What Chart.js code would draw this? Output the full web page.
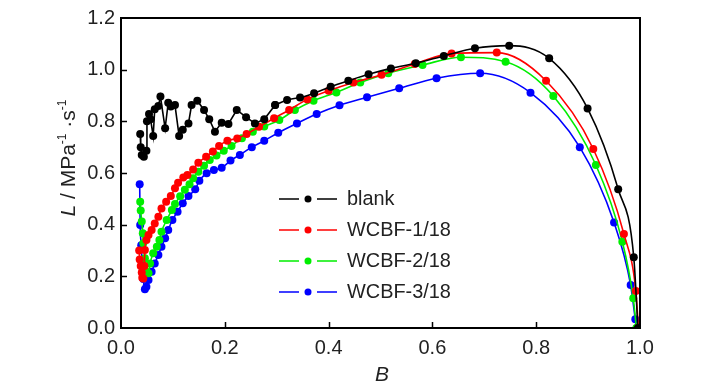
<!DOCTYPE html>
<html>
<head>
<meta charset="utf-8">
<script src="https://cdn.jsdelivr.net/npm/chart.js@4"></script>
<style>
  html, body { margin: 0; padding: 0; background: #fff; }
  #wrap { width: 726px; height: 390px; }
</style>
</head>
<body>
<div id="wrap"><canvas id="lchart" width="726" height="390"></canvas></div>
<script>
// blank: noisy part (straight segments) and smooth part
var blankRoughX = [0.037, 0.038, 0.040, 0.044, 0.049, 0.050, 0.054, 0.057, 0.062, 0.065, 0.072, 0.076, 0.085, 0.091, 0.096, 0.104, 0.112, 0.119, 0.130, 0.136, 0.147, 0.160, 0.170, 0.181, 0.194, 0.207, 0.223, 0.241, 0.258, 0.276, 0.297];
var blankRoughY = [0.751, 0.700, 0.670, 0.663, 0.686, 0.800, 0.828, 0.808, 0.743, 0.847, 0.859, 0.896, 0.773, 0.872, 0.857, 0.863, 0.743, 0.767, 0.792, 0.863, 0.880, 0.844, 0.808, 0.760, 0.795, 0.790, 0.844, 0.816, 0.792, 0.808, 0.863];
var blankSmoothX = [0.297, 0.320, 0.345, 0.372, 0.404, 0.438, 0.477, 0.520, 0.568, 0.622, 0.682, 0.748, 0.825, 0.899, 0.958, 0.988, 0.996];
var blankSmoothY = [0.863, 0.883, 0.892, 0.909, 0.934, 0.957, 0.982, 1.005, 1.025, 1.053, 1.083, 1.093, 1.044, 0.850, 0.537, 0.274, 0.0];

var wcbf1X = [0.035, 0.036, 0.038, 0.040, 0.041, 0.043, 0.045, 0.046, 0.049, 0.053, 0.059, 0.065, 0.072, 0.078, 0.087, 0.096, 0.104, 0.110, 0.120, 0.128, 0.139, 0.149, 0.164, 0.177, 0.189, 0.205, 0.224, 0.242, 0.266, 0.295, 0.324, 0.359, 0.400, 0.448, 0.502, 0.566, 0.637, 0.724, 0.819, 0.910, 0.969, 0.992, 0.997];
var wcbf1Y = [0.300, 0.265, 0.240, 0.215, 0.195, 0.192, 0.240, 0.302, 0.341, 0.360, 0.379, 0.405, 0.431, 0.463, 0.489, 0.511, 0.541, 0.562, 0.583, 0.592, 0.614, 0.640, 0.663, 0.683, 0.705, 0.725, 0.734, 0.751, 0.779, 0.812, 0.844, 0.885, 0.918, 0.950, 0.980, 1.022, 1.063, 1.066, 0.957, 0.693, 0.364, 0.143, 0.0];

var wcbf2X = [0.037, 0.038, 0.040, 0.042, 0.043, 0.046, 0.049, 0.053, 0.056, 0.062, 0.069, 0.074, 0.078, 0.088, 0.098, 0.104, 0.114, 0.123, 0.132, 0.139, 0.149, 0.160, 0.171, 0.184, 0.198, 0.213, 0.233, 0.254, 0.276, 0.305, 0.335, 0.371, 0.415, 0.461, 0.515, 0.581, 0.655, 0.741, 0.833, 0.915, 0.966, 0.987, 0.993];
var wcbf2Y = [0.489, 0.455, 0.412, 0.367, 0.328, 0.270, 0.218, 0.212, 0.250, 0.289, 0.315, 0.341, 0.373, 0.418, 0.457, 0.480, 0.510, 0.535, 0.556, 0.580, 0.605, 0.628, 0.650, 0.668, 0.686, 0.705, 0.735, 0.760, 0.780, 0.805, 0.844, 0.880, 0.912, 0.950, 0.986, 1.018, 1.048, 1.031, 0.898, 0.631, 0.334, 0.115, 0.0];

var wcbf3X = [0.036, 0.037, 0.039, 0.041, 0.043, 0.046, 0.049, 0.053, 0.059, 0.065, 0.072, 0.078, 0.085, 0.091, 0.099, 0.109, 0.119, 0.130, 0.143, 0.151, 0.165, 0.179, 0.194, 0.211, 0.229, 0.252, 0.276, 0.303, 0.339, 0.377, 0.421, 0.474, 0.536, 0.608, 0.692, 0.789, 0.884, 0.950, 0.982, 0.991, 0.994];
var wcbf3Y = [0.556, 0.399, 0.320, 0.250, 0.190, 0.150, 0.160, 0.186, 0.218, 0.250, 0.283, 0.315, 0.347, 0.379, 0.418, 0.450, 0.483, 0.511, 0.537, 0.570, 0.599, 0.612, 0.620, 0.648, 0.670, 0.700, 0.725, 0.756, 0.792, 0.828, 0.862, 0.893, 0.928, 0.967, 0.986, 0.911, 0.700, 0.408, 0.166, 0.034, 0.0];

var seriesNames = ['blank', 'WCBF-1/18', 'WCBF-2/18', 'WCBF-3/18'];
var seriesColors = ['#000000', '#ff0000', '#00ee00', '#0000ff'];
var xTicks = [0, 0.2, 0.4, 0.6, 0.8, 1.0];
var yTicks = [0, 0.2, 0.4, 0.6, 0.8, 1.0, 1.2];

var FONT = '"Liberation Sans", Arial, sans-serif';
var NARROW = '"Liberation Sans Narrow", "Arial Narrow", "Liberation Sans", sans-serif';

function pts(xs, ys) {
    return xs.map(function (x, i) { return { x: x, y: ys[i] }; });
}

function makeSet(label, color, data, smooth, inLegend) {
    return {
        label: label,
        data: data,
        showLine: true,
        borderColor: color,
        backgroundColor: color,
        borderWidth: 1.6,
        pointRadius: 4,
        pointBorderWidth: 0,
        pointBackgroundColor: color,
        tension: 0,
        cubicInterpolationMode: smooth ? 'monotone' : 'default',
        inLegend: inLegend
    };
}

var frameAndLabels = {
    id: 'frameAndLabels',
    afterDatasetsDraw: function (chart) {
        var ctx = chart.ctx;
        var a = chart.chartArea;
        var xs = chart.scales.x, ys = chart.scales.y;
        ctx.save();
        ctx.strokeStyle = '#000';
        ctx.lineWidth = 2;
        ctx.strokeRect(a.left, a.top, a.right - a.left, a.bottom - a.top);
        ctx.lineWidth = 1.5;
        ctx.beginPath();
        yTicks.slice(1, -1).forEach(function (v) {
            var py = Math.round(ys.getPixelForValue(v)) + 0.5;
            ctx.moveTo(a.left, py);
            ctx.lineTo(a.left + 6, py);
        });
        xTicks.slice(1, -1).forEach(function (v) {
            var px = Math.round(xs.getPixelForValue(v)) + 0.5;
            ctx.moveTo(px, a.bottom);
            ctx.lineTo(px, a.bottom - 6);
        });
        ctx.stroke();
        ctx.restore();
    },
    afterDraw: function (chart) {
        var ctx = chart.ctx;
        ctx.save();
        ctx.fillStyle = '#222';

        // x title
        ctx.font = 'italic 21px ' + FONT;
        ctx.textAlign = 'center';
        ctx.textBaseline = 'alphabetic';
        ctx.fillText('B', 382, 381);

        // y title with superscripts
        var parts = [
            { t: 'L', f: 'italic 21px ' + FONT, dy: 0 },
            { t: ' / MPa', f: '21px ' + FONT, dy: 0 },
            { t: '-1', f: '12px ' + FONT, dy: -9 },
            { t: ' \u00b7s', f: '21px ' + FONT, dy: 0 },
            { t: '-1', f: '12px ' + FONT, dy: -9 }
        ];
        var total = 0;
        parts.forEach(function (p) { ctx.font = p.f; p.w = ctx.measureText(p.t).width; total += p.w; });
        ctx.translate(75, 158);
        ctx.rotate(-Math.PI / 2);
        ctx.textAlign = 'left';
        var cx = -total / 2;
        parts.forEach(function (p) {
            ctx.font = p.f;
            ctx.fillText(p.t, cx, p.dy);
            cx += p.w;
        });
        ctx.restore();

        // legend (narrow face, sized so the longest label is ~104px wide)
        ctx.save();
        ctx.font = '23px ' + NARROW;
        var size = Math.min(23, 23 * 104 / ctx.measureText('WCBF-1/18').width);
        var row = 0;
        chart.data.datasets.forEach(function (ds) {
            if (!ds.inLegend) return;
            var y = 199 + row * 31;
            ctx.strokeStyle = ds.borderColor;
            ctx.fillStyle = ds.borderColor;
            ctx.lineWidth = 1.6;
            ctx.beginPath();
            ctx.moveTo(279, y); ctx.lineTo(299, y);
            ctx.moveTo(317, y); ctx.lineTo(337, y);
            ctx.stroke();
            ctx.beginPath();
            ctx.arc(308, y, 3.5, 0, Math.PI * 2);
            ctx.fill();
            ctx.fillStyle = '#222';
            ctx.font = size.toFixed(1) + 'px ' + NARROW;
            ctx.textAlign = 'left';
            ctx.textBaseline = 'middle';
            ctx.fillText(ds.label, 347, y + 1);
            row++;
        });
        ctx.restore();
    }
};

var ctx = document.getElementById('lchart').getContext('2d');
var lChart = new Chart(ctx, {
    type: 'scatter',
    data: {
        datasets: [
            makeSet(seriesNames[0], seriesColors[0], pts(blankRoughX, blankRoughY), false, true),
            makeSet(seriesNames[0], seriesColors[0], pts(blankSmoothX, blankSmoothY), true, false),
            makeSet(seriesNames[1], seriesColors[1], pts(wcbf1X, wcbf1Y), true, true),
            makeSet(seriesNames[2], seriesColors[2], pts(wcbf2X, wcbf2Y), true, true),
            makeSet(seriesNames[3], seriesColors[3], pts(wcbf3X, wcbf3Y), true, true)
        ]
    },
    options: {
        responsive: false,
        animation: false,
        layout: { padding: { left: 0, right: 86, top: 18, bottom: 0 } },
        plugins: {
            legend: { display: false },
            tooltip: { enabled: false }
        },
        scales: {
            x: {
                type: 'linear',
                min: 0,
                max: 1,
                afterBuildTicks: function (s) { s.ticks = xTicks.map(function (v) { return { value: v }; }); },
                afterFit: function (s) { s.height = 62; },
                grid: { display: false, drawTicks: false },
                border: { display: false },
                ticks: {
                    autoSkip: false,
                    maxRotation: 0,
                    padding: 8,
                    color: '#222',
                    font: { family: FONT, size: 20 },
                    callback: function (v) { return v.toFixed(1); }
                }
            },
            y: {
                type: 'linear',
                min: 0,
                max: 1.2,
                afterBuildTicks: function (s) { s.ticks = yTicks.map(function (v) { return { value: v }; }); },
                afterFit: function (s) { s.width = 121; },
                grid: { display: false, drawTicks: false },
                border: { display: false },
                ticks: {
                    padding: 6,
                    color: '#222',
                    font: { family: FONT, size: 20 },
                    callback: function (v) { return v.toFixed(1); }
                }
            }
        }
    },
    plugins: [frameAndLabels]
});
</script>
</body>
</html>
